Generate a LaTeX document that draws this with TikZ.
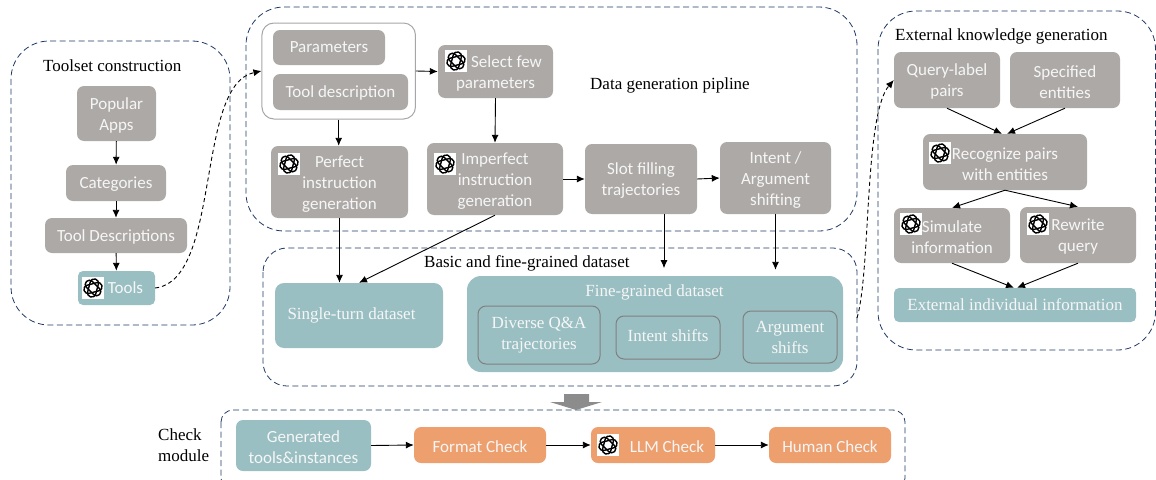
\documentclass[tikz,border=0pt]{standalone}
\usepackage{fontspec}
\setmainfont{Liberation Serif}
\newfontfamily\boxfont{Carlito}
\usetikzlibrary{arrows.meta}
\definecolor{boxgray}{HTML}{ADA9A7}
\definecolor{boxteal}{HTML}{9ABFC2}
\definecolor{boxorange}{HTML}{EE9F6E}
\definecolor{dashnavy}{HTML}{203864}
\newcommand{\dropline}{\rule{0pt}{15.5pt}}
\newcommand{\nudged}[1]{\rule{0pt}{14.5pt}#1}
\tikzset{
  >={Latex[length=8pt,width=7pt]},
  region/.style={draw=dashnavy,dash pattern=on 6pt off 3.5pt,line width=0.8pt,rounded corners=38pt},
  title/.style={font=\fontsize{17}{21}\selectfont,text=black,align=left,inner sep=0pt},
  graybox/.style={fill=boxgray,rounded corners=7pt,text=white!93!gray,align=center,
    font=\boxfont\fontsize{17}{21}\selectfont,inner sep=0pt},
  tealbox/.style={graybox,fill=boxteal},
  orangebox/.style={graybox,fill=boxorange},
  serifbox/.style={fill=none,font=\fontsize{17}{21}\selectfont,text=white!93!gray,align=center,inner sep=0pt},
  innerbox/.style={serifbox,draw=black!50,line width=1pt,rounded corners=8pt},
  sized/.style 2 args={minimum width=#1,minimum height=#2},
  flow/.style={->,line width=0.9pt},
  jump/.style={->,line width=0.9pt,dash pattern=on 4pt off 3pt},
  gptlogo/.pic={
    \node[fill=white,minimum size=22pt,inner sep=0pt] (-box) {};
    \foreach \turn in {15,75,135}
      \draw[rotate=\turn,line width=1.4pt,rounded corners=4pt]
        (-9.2,-4.2) -- (9.2,-4.2) -- (9.2,4.2) -- (-9.2,4.2) -- cycle;
  },
}
\begin{document}
\begin{tikzpicture}[x=1pt,y=-1pt]
  \useasboundingbox (0,0) rectangle (1156,479);
  % dashed regions
  \path[region] (11,41) rectangle (230,325);
  \path[region] (246,7) rectangle (857,231);
  \path[region,rounded corners=24pt] (263,248) rectangle (857,386);
  \path[region] (878,11) rectangle (1155.5,350);
  \path[region,rounded corners=12pt] (221,410) rectangle (905,490);
  \coordinate (basicedge) at (857,318);

  % titles
  \node[title,anchor=west] (toolsettitle) at (43,66) {Toolset construction};
  \node[title,anchor=west] (pipetitle) at (590,85) {Data generation pipline};
  \node[title,anchor=west] (basictitle) at (424,263) {Basic and fine-grained dataset};
  \node[title,anchor=west] (externaltitle) at (895,36) {External knowledge generation};
  \node[title,anchor=west] (checktitle) at (158,445) {Check\\module};

  % toolset
  \node[graybox,sized={79pt}{55pt}] (apps) at (116.5,113.5) {\dropline Popular\\Apps};
  \node[graybox,sized={100pt}{36pt}] (categories) at (116,183) {\nudged{Categories}};
  \node[graybox,sized={142pt}{35pt}] (tooldesc) at (116,235.5) {\nudged{Tool Descriptions}};
  \node[tealbox,sized={77pt}{34pt},rounded corners=5pt] (tools) at (116.5,288) {\hspace*{18pt}Tools};

  % data generation
  \node[draw=black!35,fill=white,line width=1pt,rounded corners=12pt,sized={153.5pt}{96pt}] (inputs) at (338.7,71) {};
  \node[graybox,sized={112pt}{35pt}] (params) at (329,47.5) {Parameters};
  \node[graybox,sized={135pt}{36pt}] (desc) at (340.5,92) {\nudged{Tool description}};
  \node[graybox,sized={115pt}{53pt}] (select) at (495.5,71.5) {\dropline\hspace*{22pt}Select few\\parameters};
  \node[graybox,sized={137pt}{72pt}] (perfect) at (339.5,182) {\dropline Perfect\\instruction\\generation};
  \node[graybox,sized={136pt}{72pt}] (imperfect) at (495,179) {\dropline Imperfect\\instruction\\generation};
  \node[graybox,sized={112pt}{70pt}] (slot) at (641,179) {\dropline Slot filling\\trajectories};
  \node[graybox,sized={111pt}{72pt}] (shift) at (775.5,178) {\dropline Intent /\\Argument\\shifting};

  % datasets
  \node[serifbox,fill=boxteal,rounded corners=9pt,sized={168pt}{65pt}] (single) at (359,315.5) {\raisebox{-2pt}{Single-turn dataset}\hspace*{15pt}};
  \node[fill=boxteal,rounded corners=14pt,sized={376pt}{96pt}] (finegrained) at (655,324) {};
  \node[serifbox] (finetitle) at (654.5,292) {Fine-grained dataset};
  \node[innerbox,sized={122pt}{58pt}] (diverse) at (539,335) {Diverse Q\&A\\trajectories};
  \node[innerbox,sized={104pt}{43pt}] (intentshift) at (668,337.5) {\raisebox{4pt}{Intent shifts}};
  \node[innerbox,sized={94pt}{52pt}] (argshift) at (790,337) {Argument\\shifts};

  % external knowledge
  \node[graybox,sized={106pt}{56pt}] (query) at (947,80) {\dropline Query-label\\pairs};
  \node[graybox,sized={110pt}{56pt}] (entities) at (1065,80) {\dropline Specified\\entities};
  \node[graybox,sized={164pt}{56pt}] (recognize) at (1005,162) {\dropline Recognize pairs\\with entities};
  \node[graybox,sized={116pt}{55pt}] (simulate) at (952,235.5) {\dropline Simulate\\information};
  \node[graybox,sized={116pt}{56pt}] (rewrite) at (1078,235) {\dropline Rewrite\\query};
  \node[serifbox,fill=boxteal,rounded corners=5pt,sized={242pt}{34pt}] (individual) at (1015,305) {External individual information};

  % check module
  \node[tealbox,sized={135pt}{51pt}] (generated) at (303.5,445.5) {\dropline Generated\\tools\&instances};
  \node[orangebox,sized={132pt}{36pt}] (format) at (480,445) {\nudged{Format Check}};
  \node[orangebox,sized={124pt}{36pt}] (llm) at (653,445) {\hspace*{28pt}\nudged{LLM Check}};
  \node[orangebox,sized={122pt}{36pt}] (human) at (830,445) {\nudged{Human Check}};
  \fill[black!45] (564,394) -- (589,394) -- (589,402) -- (602,402) -- (576,410) -- (550,402) -- (564,402) -- cycle;

  % model logos
  \pic (logotools) at (93,288) {gptlogo};
  \pic (logoselect) at (456,61) {gptlogo};
  \pic (logoperfect) at (289,164) {gptlogo};
  \pic (logoimperfect) at (445,164) {gptlogo};
  \pic (logorecognize) at (940,153) {gptlogo};
  \pic (logosimulate) at (911,224) {gptlogo};
  \pic (logorewrite) at (1038,224) {gptlogo};
  \pic (logollm) at (608,445) {gptlogo};

  % connectors
  \draw[flow] (apps) -- (categories);
  \draw[flow] (categories) -- (tooldesc);
  \draw[flow] (tooldesc) -- (tools);
  \draw[jump] (tools.east) .. controls (222,280) and (195,85) .. (inputs.west);
  \draw[flow] (inputs.east) -- (select.west);
  \draw[flow] (inputs.south) -- (inputs.south |- perfect.north);
  \draw[flow] (select.south) -- (imperfect.north);
  \draw[flow] (perfect.south) -- (perfect.south |- single.north);
  \draw[flow] (imperfect.south) -- (single.north);
  \draw[flow] (imperfect.east) -- (slot.west);
  \draw[flow] (slot.east) -- (shift.west);
  \draw[flow,shorten >=8pt] (slot.south -| finegrained.north) ++(9,0) -- ++(0,62);
  \draw[flow,shorten >=6pt] (shift.south) -- (shift.south |- finegrained.north);
  \draw[jump] (basicedge) .. controls (871,270) and (864,115) .. (query.west);
  \draw[flow] (query.south) -- ([xshift=-3pt]recognize.north);
  \draw[flow] (entities.south) -- ([xshift=2pt]recognize.north);
  \draw[flow] (recognize.south) -- (simulate.north);
  \draw[flow] (recognize.south) -- (rewrite.north);
  \draw[flow] (simulate.south) -- ([xshift=-1pt]individual.north);
  \draw[flow] (rewrite.south) -- ([xshift=2pt]individual.north);
  \draw[flow] (generated.east) -- (format.west);
  \draw[flow] (format.east) -- (llm.west);
  \draw[flow] (llm.east) -- (human.west);
\end{tikzpicture}
\end{document}
